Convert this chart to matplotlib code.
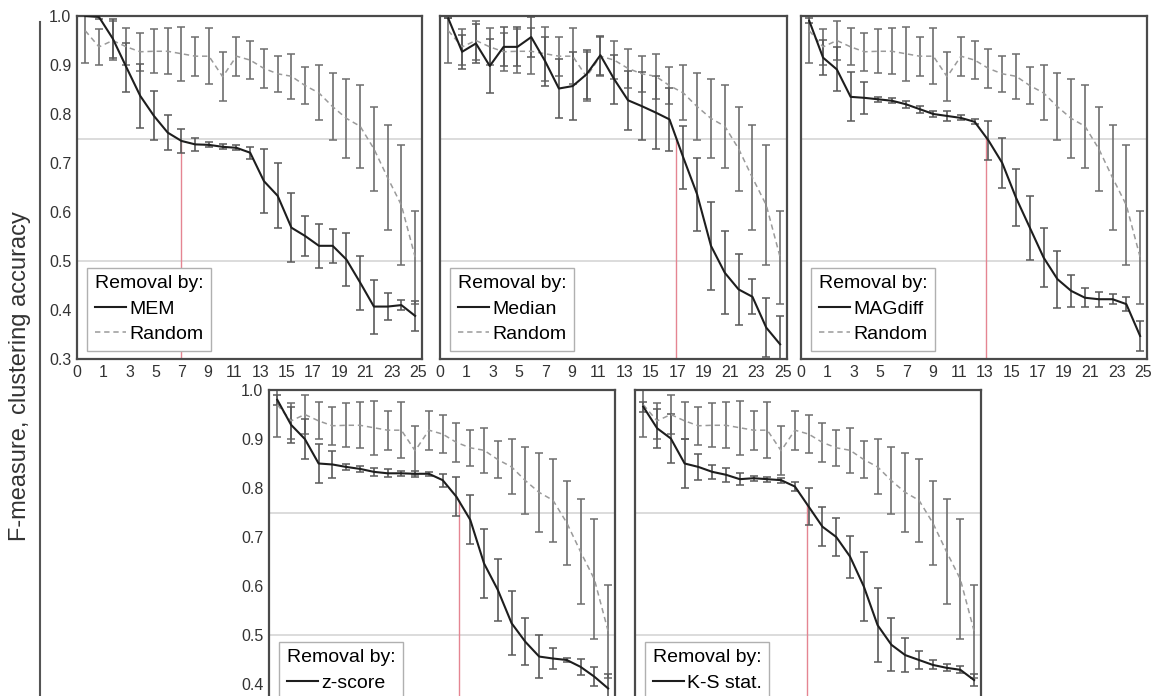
import numpy as np
import matplotlib
matplotlib.use('Agg')
import matplotlib.pyplot as plt
from matplotlib.lines import Line2D

plt.rcParams['font.family'] = ['Liberation Sans', 'DejaVu Sans']

# removed outliers (category index) and x tick labels
X = np.arange(25)
x_labels = ['0', '1', '3', '5', '7', '9', '11', '13', '15', '17', '19', '21', '23', '25']

# random removal (same baseline in every panel)
rand_mean = [0.970, 0.937, 0.950, 0.937, 0.927, 0.928, 0.928, 0.923, 0.918, 0.918, 0.876, 0.918, 0.910,
             0.893, 0.882, 0.877, 0.858, 0.843, 0.815, 0.791, 0.775, 0.729, 0.670, 0.614, 0.508]
rand_err = [0.065, 0.037, 0.040, 0.038, 0.039, 0.045, 0.047, 0.055, 0.040, 0.057, 0.050, 0.040, 0.038,
            0.039, 0.037, 0.046, 0.038, 0.056, 0.069, 0.080, 0.085, 0.086, 0.107, 0.122, 0.095]

mem_mean = [1.000, 0.998, 0.954, 0.895, 0.837, 0.796, 0.762, 0.745, 0.738, 0.737, 0.733, 0.731, 0.721,
            0.663, 0.633, 0.568, 0.551, 0.531, 0.531, 0.503, 0.456, 0.407, 0.407, 0.410, 0.388]
mem_err = [0.0, 0.004, 0.040, 0.050, 0.065, 0.050, 0.035, 0.025, 0.014, 0.005, 0.005, 0.005, 0.012,
           0.065, 0.066, 0.070, 0.040, 0.045, 0.035, 0.055, 0.055, 0.055, 0.028, 0.010, 0.030]

median_mean = [0.995, 0.927, 0.944, 0.898, 0.937, 0.937, 0.957, 0.908, 0.852, 0.857, 0.881, 0.920, 0.871,
               0.828, 0.816, 0.803, 0.789, 0.711, 0.636, 0.531, 0.476, 0.442, 0.427, 0.364, 0.330]
median_err = [0.0, 0.035, 0.040, 0.055, 0.040, 0.040, 0.040, 0.050, 0.060, 0.070, 0.050, 0.040, 0.050,
              0.060, 0.070, 0.075, 0.065, 0.065, 0.075, 0.090, 0.085, 0.072, 0.036, 0.060, 0.058]

magdiff_mean = [0.990, 0.915, 0.891, 0.835, 0.833, 0.830, 0.827, 0.820, 0.810, 0.800, 0.796, 0.792, 0.784,
                0.746, 0.700, 0.629, 0.568, 0.507, 0.463, 0.439, 0.425, 0.422, 0.422, 0.412, 0.347]
magdiff_err = [0.005, 0.035, 0.045, 0.050, 0.032, 0.005, 0.005, 0.007, 0.007, 0.007, 0.010, 0.005, 0.005,
               0.040, 0.051, 0.058, 0.065, 0.061, 0.058, 0.032, 0.019, 0.015, 0.010, 0.015, 0.030]

zscore_mean = [0.980, 0.929, 0.900, 0.850, 0.848, 0.843, 0.839, 0.833, 0.830, 0.830, 0.829, 0.829, 0.816,
               0.782, 0.735, 0.646, 0.592, 0.524, 0.486, 0.456, 0.452, 0.449, 0.435, 0.415, 0.391]
zscore_err = [0.010, 0.037, 0.040, 0.040, 0.028, 0.006, 0.006, 0.008, 0.008, 0.005, 0.006, 0.004, 0.013,
              0.040, 0.050, 0.070, 0.064, 0.065, 0.048, 0.043, 0.022, 0.005, 0.017, 0.020, 0.030]

ks_mean = [0.966, 0.922, 0.901, 0.850, 0.843, 0.833, 0.827, 0.818, 0.820, 0.818, 0.816, 0.803, 0.762,
           0.721, 0.700, 0.660, 0.599, 0.520, 0.480, 0.459, 0.449, 0.439, 0.433, 0.429, 0.408]
ks_err = [0.010, 0.040, 0.050, 0.051, 0.027, 0.014, 0.014, 0.012, 0.005, 0.005, 0.005, 0.010, 0.037,
          0.040, 0.039, 0.043, 0.070, 0.075, 0.054, 0.034, 0.019, 0.009, 0.007, 0.007, 0.012]

methods = ['MEM', 'Median', 'MAGdiff', 'z-score', 'K-S stat.']
means = [mem_mean, median_mean, magdiff_mean, zscore_mean, ks_mean]
errs = [mem_err, median_err, magdiff_err, zscore_err, ks_err]
# where each method drops below 0.75
cut_x = [7.0, 16.5, 12.8, 13.2, 11.9]

W, H = 1159, 696
fig = plt.figure(figsize=(W / 100, H / 100), dpi=100)

# axes boxes in pixels: left, right, top(1.0), bottom(0.3)
boxes = [(77, 422, 16, 359), (440, 787, 16, 359), (801, 1147, 16, 359),
         (269, 615, 390, 733), (635, 981, 390, 733)]

for i, (l, r, t, b) in enumerate(boxes):
    ax = fig.add_axes([l / W, (H - b) / H, (r - l) / W, (b - t) / H])
    ax.set_xlim(-0.5, 24.5)
    ax.set_ylim(0.3, 1.0)

    ax.axhline(0.75, color='#d6d6d6', lw=1.2, zorder=0)
    ax.axhline(0.5, color='#d6d6d6', lw=1.2, zorder=0)
    top = np.interp(cut_x[i], X, means[i])
    ax.plot([cut_x[i], cut_x[i]], [0.3, top], color='#e58592', lw=1.0, zorder=1)

    ax.errorbar(X, rand_mean, yerr=rand_err, fmt='none', ecolor='#6e6e6e',
                elinewidth=1.2, capsize=2.6, capthick=1.1, zorder=2)
    ax.errorbar(X, means[i], yerr=errs[i], fmt='none', ecolor='#5a5a5a',
                elinewidth=1.2, capsize=2.6, capthick=1.1, zorder=2)
    ax.plot(X, rand_mean, color='#9a9a9a', lw=1.1, ls=(0, (3.5, 2.5)), zorder=3, label='Random')
    ax.plot(X, means[i], color='#1e1e1e', lw=1.5, zorder=4, label=methods[i])

    for s in ax.spines.values():
        s.set_color('#4a4a4a')
        s.set_linewidth(1.6)
    ax.tick_params(length=0, labelsize=11.5, colors='#333333', pad=4)
    ax.set_yticks([0.3, 0.4, 0.5, 0.6, 0.7, 0.8, 0.9, 1.0])
    if i in (0, 3):
        ax.set_yticklabels(['0.3', '0.4', '0.5', '0.6', '0.7', '0.8', '0.9', '1.0'])
    else:
        ax.set_yticklabels([])
    ax.set_xticks(np.linspace(-0.6, 24.2, 14))
    if i < 3:
        ax.set_xticklabels(x_labels)
    else:
        ax.set_xticklabels([])

    handles, labels = ax.get_legend_handles_labels()
    leg = ax.legend(handles[::-1], labels[::-1], title='Removal by:', loc='lower left',
                    bbox_to_anchor=(10 / (r - l), 8 / (b - t)), borderaxespad=0,
                    fontsize=14, title_fontsize=14, frameon=True, fancybox=False,
                    edgecolor='#b0b0b0', framealpha=1, handlelength=1.6,
                    handletextpad=0.15, labelspacing=0.4, borderpad=0.4)
    leg.get_frame().set_linewidth(1.0)
    leg.set_zorder(5)

fig.text(20 / W, (H - 376) / H, 'F-measure, clustering accuracy', rotation=90,
         ha='center', va='center', fontsize=17, color='#333333')
fig.add_artist(Line2D([40 / W, 40 / W], [(H - 22) / H, 0], color='#555555', lw=1.5))

fig.savefig('out.png', dpi=100)
